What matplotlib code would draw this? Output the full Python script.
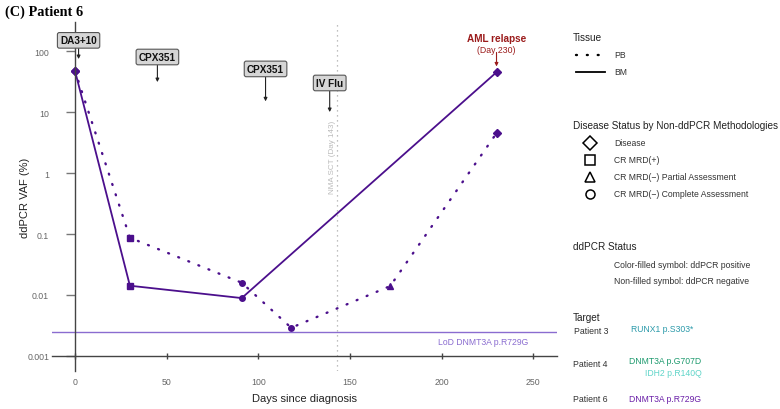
import numpy as np
import matplotlib.pyplot as plt
from matplotlib.lines import Line2D

# Data (days since diagnosis, ddPCR VAF %)
bm_days = [0, 30, 91, 230]
bm_vaf = [48, 0.0142, 0.0089, 45]
bm_marks = ["D", "s", "o", "D"]

pb_days = [0, 30, 91, 118, 172, 230]
pb_vaf = [48, 0.087, 0.0159, 0.0029, 0.014, 4.5]
pb_marks = ["D", "s", "o", "o", "^", "D"]

lod = 0.00247
sct_day = 143

# Treatment annotations: label, day, box level, arrow tip level
treat_labels = ["DA3+10", "CPX351", "CPX351", "IV Flu"]
treat_days = [2, 45, 104, 139]
treat_box = [150, 80, 51, 30]
treat_tip = [74, 31, 15, 10]

relapse_day = 230

purple = "#4b0f8c"
lod_col = "#8a6cd0"
W, H = 780, 410

plt.rcParams["font.family"] = ["Liberation Sans", "DejaVu Sans"]
fig = plt.figure(figsize=(7.8, 4.1), dpi=100)
ax = fig.add_axes([52 / W, 1 - 372 / H, (557 - 52) / W, (372 - 23) / H])

ax.set_yscale("log")
ax.set_xlim(-12.5, 263)
ax.set_ylim(0.000567, 300)

pb_style = (0, (0.4, 4.2))

# Lines
ax.plot(bm_days, bm_vaf, color=purple, lw=1.3, solid_capstyle="round")
ax.plot(pb_days, pb_vaf, color=purple, lw=1.7, linestyle=pb_style,
        dash_capstyle="round")
for d, v, m in zip(bm_days, bm_vaf, bm_marks):
    ax.plot(d, v, marker=m, color=purple, ms=4 if m != "D" else 4.5, mec=purple)
for d, v, m in zip(pb_days, pb_vaf, pb_marks):
    ax.plot(d, v, marker=m, color=purple, ms=4 if m != "D" else 4.5, mec=purple)

# LoD line
ax.axhline(lod, color=lod_col, lw=1)
ax.text(223, lod * 0.82, "LoD DNMT3A p.R729G", color=lod_col, fontsize=6.2,
        ha="center", va="top")

# SCT line
ax.axvline(sct_day, color="#aaaaaa", lw=0.9, linestyle=(0, (1, 3)))
ax.text(sct_day - 2.5, 1.9, "NMA SCT (Day 143)", rotation=90, color="#bbbbbb",
        fontsize=5.8, ha="center", va="center")

# Treatment boxes
for lab, d, yb, yt in zip(treat_labels, treat_days, treat_box, treat_tip):
    ax.annotate(lab, xy=(d, yt), xytext=(d, yb), ha="center", va="center",
                fontsize=7.2, fontweight="bold", color="#111111",
                bbox=dict(boxstyle="round,pad=0.28,rounding_size=0.2",
                          fc="#d6d6d6", ec="#555555", lw=0.8),
                arrowprops=dict(arrowstyle="-|>", color="#222222", lw=0.8,
                                mutation_scale=5, shrinkA=0, shrinkB=0))

# Relapse annotation
red = "#9b1b1b"
ax.text(relapse_day, 162, "AML relapse", color=red, fontsize=7.2,
        fontweight="bold", ha="center", va="center")
ax.text(relapse_day, 107, "(Day 230)", color=red, fontsize=6.3,
        ha="center", va="center")
ax.annotate("", xy=(relapse_day, 56), xytext=(relapse_day, 95),
            arrowprops=dict(arrowstyle="-|>", color=red, lw=0.8,
                            mutation_scale=5, shrinkA=0, shrinkB=0))

# Axes styling
for s in ["top", "right"]:
    ax.spines[s].set_visible(False)
ax.spines["left"].set_position(("data", 0))
ax.spines["bottom"].set_position(("data", 0.001))
for s in ["left", "bottom"]:
    ax.spines[s].set_color("#444444")
    ax.spines[s].set_linewidth(1)
ax.set_yticks([0.001, 0.01, 0.1, 1, 10, 100])
ax.set_yticklabels(["0.001", "0.01", "0.1", "1", "10", "100"])
ax.minorticks_off()
ax.set_xticks([0, 50, 100, 150, 200, 250])
ax.tick_params(axis="y", direction="out", length=6.5, width=1, color="#777777",
               labelsize=6.3, labelcolor="#666666", pad=12)
ax.tick_params(axis="x", direction="inout", length=4, width=1, color="#444444",
               labelsize=6.3, labelcolor="#666666", pad=13)
ax.patch.set_visible(False)

fig.text(25 / W, 1 - 198 / H, "ddPCR VAF (%)", rotation=90, fontsize=8,
         ha="center", va="center", color="#222222")
fig.text(304 / W, 1 - 399 / H, "Days since diagnosis", fontsize=8,
         ha="center", va="center", color="#222222")

# Title
fig.text(5 / W, 1 - 12 / H, "(C) Patient 6", fontsize=10.3, fontweight="bold",
         family="Liberation Serif", ha="left", va="center")


# Legend area
def px(x, y):
    return x / W, 1 - y / H


def ftext(x, y, s, **kw):
    kw.setdefault("fontsize", 6.2)
    kw.setdefault("color", "#333333")
    fig.text(*px(x, y), s, ha=kw.pop("ha", "left"), va="center", **kw)


ftext(573, 38, "Tissue", fontsize=7.2, color="#222222")
for yy, ls, lw, lab in [(56, pb_style, 1.7, "PB"), (73, "-", 1.3, "BM")]:
    x0, y0 = px(576, yy)
    x1, _ = px(605, yy)
    fig.add_artist(Line2D([x0, x1], [y0, y0], color="black", lw=lw,
                          linestyle=ls, dash_capstyle="round",
                          transform=fig.transFigure))
    ftext(614, yy, lab)

ftext(573, 126, "Disease Status by Non-ddPCR Methodologies", fontsize=7.2,
      color="#222222")
status_marks = ["D", "s", "^", "o"]
status_labels = ["Disease", "CR MRD(+)", "CR MRD(\u2212) Partial Assessment",
                 "CR MRD(\u2212) Complete Assessment"]
for i, (m, lab) in enumerate(zip(status_marks, status_labels)):
    yy = 144 + 17 * i
    xm, ym = px(590, yy)
    fig.add_artist(Line2D([xm], [ym], marker=m, ms=6.5 if m != "D" else 7,
                          mfc="none", mec="black", mew=1.1,
                          transform=fig.transFigure))
    ftext(614, yy, lab)

ftext(573, 247, "ddPCR Status", fontsize=7.2, color="#222222")
ftext(614, 265, "Color-filled symbol: ddPCR positive")
ftext(614, 282, "Non-filled symbol: ddPCR negative")

ftext(573, 318, "Target", fontsize=7.2, color="#222222")
ftext(574, 331, "Patient 3", fontsize=6.3)
ftext(631, 330, "RUNX1 p.S303*", color="#2b9aaa")
ftext(573, 365, "Patient 4", fontsize=6.3)
ftext(629, 362, "DNMT3A p.G707D", color="#1e9a6e")
ftext(702, 374, "IDH2 p.R140Q", color="#5fd4c8", ha="right")
ftext(573, 400, "Patient 6", fontsize=6.3)
ftext(629, 400, "DNMT3A p.R729G", color="#6a1fa8")

fig.savefig("out.png", dpi=100)
